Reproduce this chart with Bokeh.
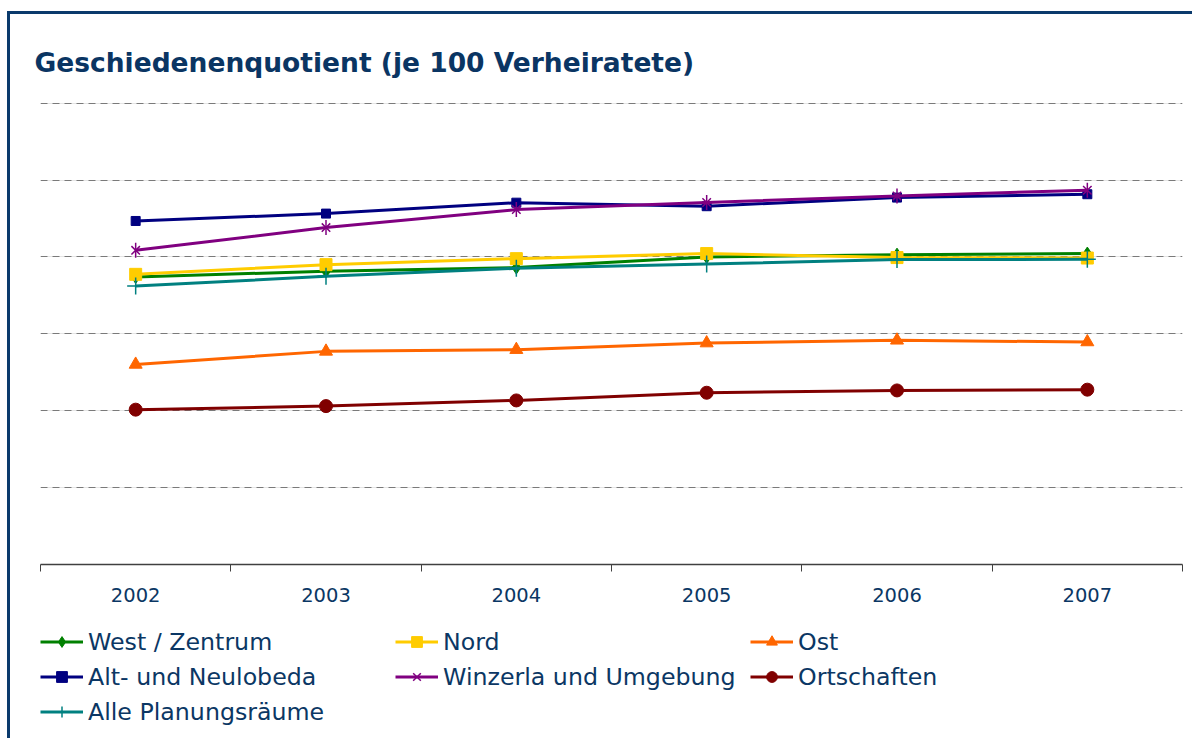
from bokeh.plotting import figure
from bokeh.models import FixedTicker, Legend, LegendItem, Range1d, Grid, Title
from bokeh.layouts import column
from bokeh.embed import file_html
from bokeh.resources import INLINE
import math

# ---- data ----
years = ["2002", "2003", "2004", "2005", "2006", "2007"]
west_zentrum = [18.70, 19.07, 19.31, 20.00, 20.15, 20.22]
nord = [18.87, 19.50, 19.89, 20.22, 19.96, 19.93]
ost = [13.01, 13.86, 13.97, 14.40, 14.58, 14.47]
alt_neulobeda = [22.34, 22.82, 23.53, 23.30, 23.86, 24.08]
winzerla = [20.43, 21.91, 23.08, 23.54, 23.97, 24.34]
ortschaften = [10.07, 10.30, 10.67, 11.17, 11.32, 11.37]
alle = [18.11, 18.74, 19.26, 19.54, 19.83, 19.85]

names = ["West / Zentrum", "Nord", "Ost", "Alt- und Neulobeda",
         "Winzerla und Umgebung", "Ortschaften", "Alle Planungsräume"]
values = [west_zentrum, nord, ost, alt_neulobeda, winzerla, ortschaften, alle]
colors = ["#008000", "#FFCC00", "#FF6600", "#000080", "#800080", "#800000", "#008080"]
y_ticks = [5, 10, 15, 20, 25, 30]

TEXT = "#0b3764"
BORDER = "3px solid #0a3a6c"
x_pos = [i + 0.5 for i in range(len(years))]

p = figure(frame_width=1139, frame_height=466, output_backend="svg", toolbar_location=None,
           x_range=Range1d(0, len(years)), y_range=Range1d(0, 30.5),
           y_axis_location=None,
           min_border_left=29, min_border_right=14, min_border_top=81,
           min_border_bottom=60)
p.styles = {"border-left": BORDER, "border-top": BORDER,
            "margin-top": "11px", "margin-left": "7px"}
p.outline_line_color = None
p.xgrid.visible = False
p.add_layout(Grid(dimension=1, ticker=FixedTicker(ticks=y_ticks),
                  grid_line_color="#7a7a7a", grid_line_dash="7 5",
                  grid_line_width=1))

p.title = Title(text="Geschiedenenquotient (je 100 Verheiratete)", align="left",
                offset=-6, standoff=36, text_font="DejaVu Sans", text_font_style="bold",
                text_font_size="26.5px", text_color="#0a3563")

ax = p.xaxis[0]
ax.ticker = FixedTicker(ticks=x_pos, minor_ticks=list(range(0, len(years) + 1)))
ax.major_label_overrides = {x: y for x, y in zip(x_pos, years)}
ax.major_tick_line_color = None
ax.major_tick_in = 0
ax.major_tick_out = 0
ax.minor_tick_line_color = "#404040"
ax.minor_tick_in = 0
ax.minor_tick_out = 7
ax.axis_line_color = "#404040"
ax.axis_line_width = 1.5
ax.major_label_standoff = 16
ax.major_label_text_font = "DejaVu Sans"
ax.major_label_text_font_size = "19.5px"
ax.major_label_text_color = TEXT

# legend lives in its own strip below the chart (series drawn there fall outside its view)
q = figure(width=1182, height=117, output_backend="svg", toolbar_location=None,
           x_range=Range1d(0, 1), y_range=Range1d(0, 1),
           x_axis_location=None, y_axis_location=None,
           min_border_left=30, min_border_right=0, min_border_top=3, min_border_bottom=0)
q.styles = {"border-left": BORDER, "margin-left": "7px"}
q.outline_line_color = None
q.xgrid.visible = False
q.ygrid.visible = False

markers = [("diamond", 13), ("square", 12), ("triangle", 13), ("square", 9),
           (None, 12), ("circle", 13), ("cross", 17)]


def add_series(fig, xs, ys, col, mk, sz):
    rends = [fig.line(xs, ys, line_color=col, line_width=3)]
    if mk is None:
        rends.append(fig.scatter(xs, ys, marker="x", size=sz, line_color=col, line_width=1.5))
        rends.append(fig.scatter(xs, ys, marker="dash", size=sz + 3, angle=math.pi / 2,
                                 line_color=col, line_width=1.5))
    elif mk == "cross":
        rends.append(fig.scatter(xs, ys, marker=mk, size=sz, line_color=col, line_width=1.5))
    else:
        rends.append(fig.scatter(xs, ys, marker=mk, size=sz, line_color=col, fill_color=col))
    return rends


items = []
for name, vals, col, (mk, sz) in zip(names, values, colors, markers):
    add_series(p, x_pos, vals, col, mk, sz)
    items.append(LegendItem(label=name, renderers=add_series(q, x_pos, vals, col, mk, sz)))

legend = Legend(items=items, location="top_left", orientation="horizontal", ncols=3,
                glyph_width=43, glyph_height=27, label_height=35, label_width=307,
                label_standoff=5, spacing=0, padding=0, margin=0,
                border_line_color=None, background_fill_alpha=0,
                label_text_font="DejaVu Sans", label_text_font_size="23.7px",
                label_text_color=TEXT)
q.add_layout(legend, "center")

layout = column(p, q, spacing=0)
open("out.html", "w").write(file_html(layout, INLINE))
